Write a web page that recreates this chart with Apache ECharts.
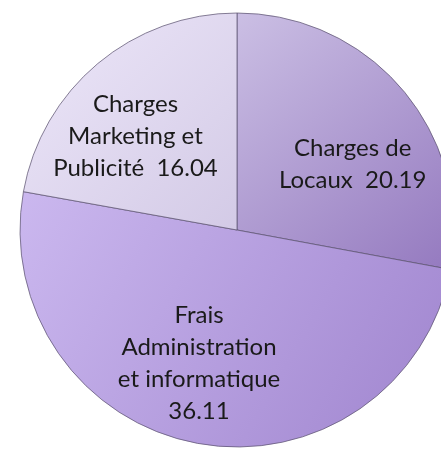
<!DOCTYPE html>
<html>
<head>
<meta charset="utf-8">
<script src="https://cdn.jsdelivr.net/npm/echarts@6/dist/echarts.min.js"></script>
<style>
html,body{margin:0;padding:0;background:#fff;}
#c{width:441px;height:449px;}
</style>
</head>
<body>
<div id="c"></div>
<script>
var categories = ["Charges de\nLocaux", "Frais\nAdministration\net informatique", "Charges\nMarketing et\nPublicité"];
var values = [20.19, 36.11, 16.04];
var valueSeparators = ["  ", "\n", "  "];

var gradients = [
  ["#cbbfe4", "#9479bf"],
  ["#cbb8ef", "#9f84ce"],
  ["#ede7f9", "#d3cae6"]
];
var labelOffsets = [[30, 6], [-18, 24], [-30, -8]];

var data = categories.map(function (c, i) {
  return {
    name: c,
    value: values[i],
    itemStyle: {
      color: new echarts.graphic.LinearGradient(0, 0, 1, 1, [
        {offset: 0, color: gradients[i][0]},
        {offset: 1, color: gradients[i][1]}
      ])
    },
    label: {offset: labelOffsets[i]}
  };
});

var chart = echarts.init(document.getElementById('c'), null, {renderer: 'canvas'});
chart.setOption({
  animation: false,
  series: [{
    type: 'pie',
    center: [237, 230],
    radius: 217,
    startAngle: 90,
    clockwise: true,
    data: data,
    itemStyle: {
      borderColor: 'rgba(95,85,115,0.75)',
      borderWidth: 1
    },
    label: {
      show: true,
      position: 'inside',
      color: '#1a1a1a',
      fontFamily: 'Lato',
      fontSize: 24,
      lineHeight: 32,
      align: 'center',
      formatter: function (p) {
        return p.name + valueSeparators[p.dataIndex] + p.value.toFixed(2);
      }
    },
    labelLine: {show: false},
    emphasis: {disabled: true}
  }]
});
</script>
</body>
</html>
